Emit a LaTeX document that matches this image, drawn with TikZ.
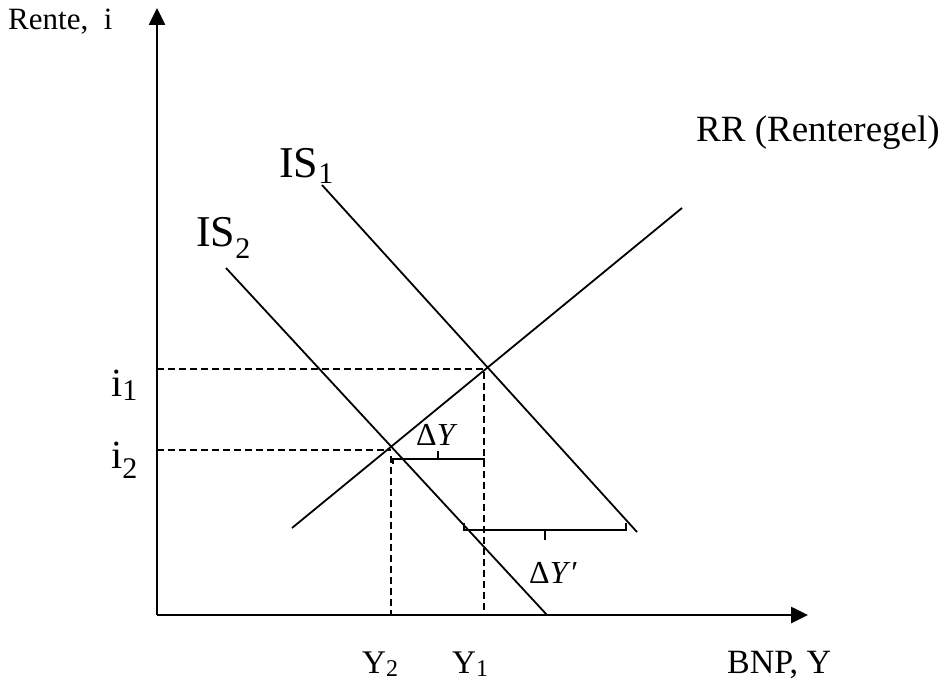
\documentclass[tikz,border=0pt]{standalone}
\usepackage{fontspec}
\setmainfont{Liberation Serif}
\usetikzlibrary{arrows.meta}
\newcommand{\fsz}[1]{\fontsize{#1}{#1}\selectfont}
\newcommand{\subdn}[3]{\raisebox{-#1}{\fsz{#2}#3}}
\begin{document}
\begin{tikzpicture}[x=1pt,y=-1pt,
  axis/.style={line width=2.6pt,-{Triangle[length=17pt,width=16pt]}},
  curve/.style={line width=1.8pt},
  guide/.style={line width=1.6pt,dash pattern=on 7pt off 4pt},
  brace/.style={line width=1.8pt},
  lbl/.style={inner sep=0pt,anchor=base west}]
\useasboundingbox (0,0) rectangle (950,695);
% axes
\coordinate (O) at (157,615);
\coordinate (ytop) at (157,8);
\coordinate (xend) at (808,615);
\draw[axis] (O) -- (ytop);
\draw[axis] (O) -- (xend);
% curves
\coordinate (rr0) at (292,528);
\coordinate (rr1) at (682,208);
\coordinate (is1a) at (322,185);
\coordinate (is1b) at (637,532);
\coordinate (is2a) at (226,268);
\coordinate (is2b) at (547,615);
\draw[curve] (rr0) -- (rr1);
\draw[curve] (is1a) -- (is1b);
\draw[curve] (is2a) -- (is2b);
% equilibria
\coordinate (E1) at (484,369);
\coordinate (E2) at (391,450);
\coordinate (i1ax) at (157,369);
\coordinate (i2ax) at (157,450);
\coordinate (Y1ax) at (484,615);
\coordinate (Y2ax) at (391,615);
\coordinate (Y2top) at (391,456);
\draw[guide] (i1ax) -- (E1) -- (Y1ax);
\draw[guide] (i2ax) -- (E2);
\draw[guide] (Y2top) -- (Y2ax);
% brace dY (ends down, middle up)
\coordinate (b1l) at (393,459);
\coordinate (b1r) at (484,459);
\coordinate (b1m) at (438,459);
\draw[brace] ([yshift=-5pt]b1l) -- (b1l) -- (b1r) -- ([yshift=-5pt]b1r);
\draw[brace] (b1m) -- ([yshift=8pt]b1m);
% brace dY' (ends up, middle down)
\coordinate (b2l) at (464,530);
\coordinate (b2r) at (626,530);
\coordinate (b2m) at (545,530);
\draw[brace] ([yshift=7pt]b2l) -- (b2l) -- (b2r) -- ([yshift=7pt]b2r);
\draw[brace] (b2m) -- ([yshift=-10pt]b2m);
% labels
\node[lbl] (rente) at (8,30) {\fsz{31}Rente,\ \ i};
\node[lbl] (is1) at (279,178) {\fsz{44}IS\subdn{6pt}{30}{1}};
\node[lbl] (is2) at (196,246) {\fsz{44}IS\subdn{12pt}{30}{2}};
\node[lbl] (rr) at (696,142) {\fsz{37}RR (Renteregel)};
\node[lbl] (i1) at (111,396) {\fsz{40}i\subdn{4pt}{30}{1}};
\node[lbl] (i2) at (111,468) {\fsz{40}i\subdn{10pt}{30}{2}};
\node[lbl] (dy) at (416,445) {\fsz{32}Δ\textit{Y}};
\node[lbl] (dyp) at (529,583) {\fsz{32}Δ\textit{Y}\kern1pt′};
\node[lbl] (y2) at (362,673) {\fsz{33}Y\subdn{3pt}{24}{2}};
\node[lbl] (y1) at (452,673) {\fsz{33}Y\subdn{3pt}{24}{1}};
\node[lbl] (bnp) at (727,673) {\fsz{34}BNP, Y};
\end{tikzpicture}
\end{document}
